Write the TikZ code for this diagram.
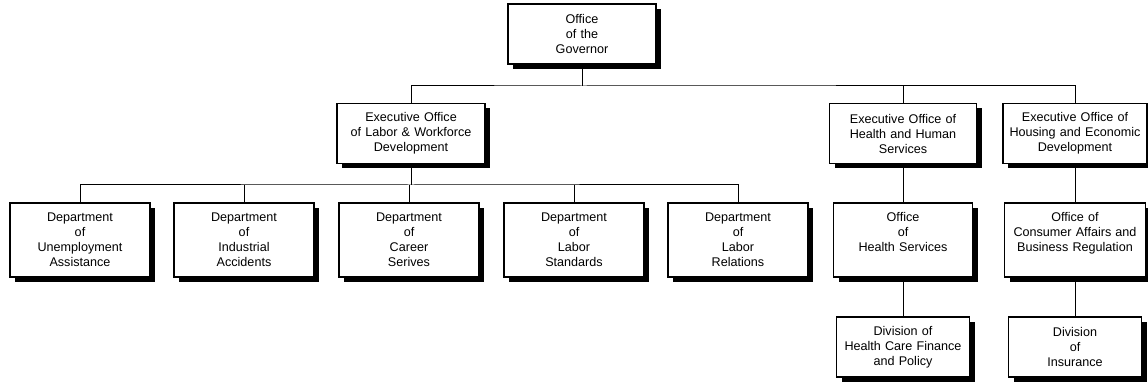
\documentclass[tikz,border=0pt]{standalone}
\usepackage{fontspec}
\setmainfont{Liberation Sans}
\usepackage{tikz}
\usetikzlibrary{shadows}
\tikzset{
  orghead/.style = {rectangle, draw=black, line width=1.8pt, fill=white,
                    drop shadow={shadow xshift=5pt, shadow yshift=-5pt,
                                 fill=black, opacity=1},
                    align=center, font=\fontsize{12.6}{15}\selectfont,
                    inner xsep=3pt, inner ysep=4pt, minimum height=60pt},
  orgdept/.style = {orghead, minimum height=0pt, text height=15pt, text depth=51pt},
  orgline/.style = {draw=black, line width=1pt},
}

\begin{document}
\begin{tikzpicture}[x=1pt, y=-1pt]
  \useasboundingbox (0,0) rectangle (1148,387);

  % governor and executive offices
  \node[orghead, text width=142pt] (gov)       at (582,34)    {Office\\of the\\Governor};
  \node[orghead, text width=142pt] (laborex)   at (411,133.5) {Executive Office\\of Labor \& Workforce\\Development};
  \node[orghead, text width=141pt] (healthex)  at (903,133.5) {Executive Office of\\Health and Human\\Services};
  \node[orghead, text width=138pt] (housingex) at (1075,133.5){Executive Office of\\Housing and Economic\\Development};

  % departments and offices
  \node[orgdept, text width=134pt] (unemp)     at (80,240)    {Department\\of\\Unemployment\\Assistance};
  \node[orgdept, text width=134pt] (indacc)    at (244,240)   {Department\\of\\Industrial\\Accidents};
  \node[orgdept, text width=134pt] (career)    at (409,240)   {Department\\of\\Career\\Serives};
  \node[orgdept, text width=134pt] (laborstd)  at (574,240)   {Department\\of\\Labor\\Standards};
  \node[orgdept, text width=134pt] (laborrel)  at (738,240)   {Department\\of\\Labor\\Relations};
  \node[orgdept, text width=133pt] (healthsvc) at (903,240)   {Office\\of\\Health Services};
  \node[orgdept, text width=135pt] (consumer)  at (1075,240)  {Office of\\Consumer Affairs and\\Business Regulation};

  % divisions
  \node[orghead, text width=127pt] (hcfp)      at (903,347)   {Division of\\Health Care Finance\\and Policy};
  \node[orghead, text width=127pt] (insur)     at (1075,347)  {Division\\of\\Insurance};

  \coordinate (govbus)   at (582,86);
  \coordinate (laborbus) at (411,185);

  \draw[orgline] (gov) -- (govbus);
  \draw[orgline] (laborex.north) |- (govbus) -| (housingex.north);
  \draw[orgline] (healthex.north) -- (healthex.north |- govbus);

  \draw[orgline] (laborex) -- (laborbus);
  \draw[orgline] (unemp.north) |- (laborbus) -| (laborrel.north);
  \foreach \dept in {indacc, career, laborstd}
    \draw[orgline] (\dept.north) -- (\dept.north |- laborbus);

  \draw[orgline] (healthex) -- (healthsvc);
  \draw[orgline] (housingex) -- (consumer);
  \draw[orgline] (healthsvc) -- (hcfp);
  \draw[orgline] (consumer) -- (insur);
\end{tikzpicture}
\end{document}
